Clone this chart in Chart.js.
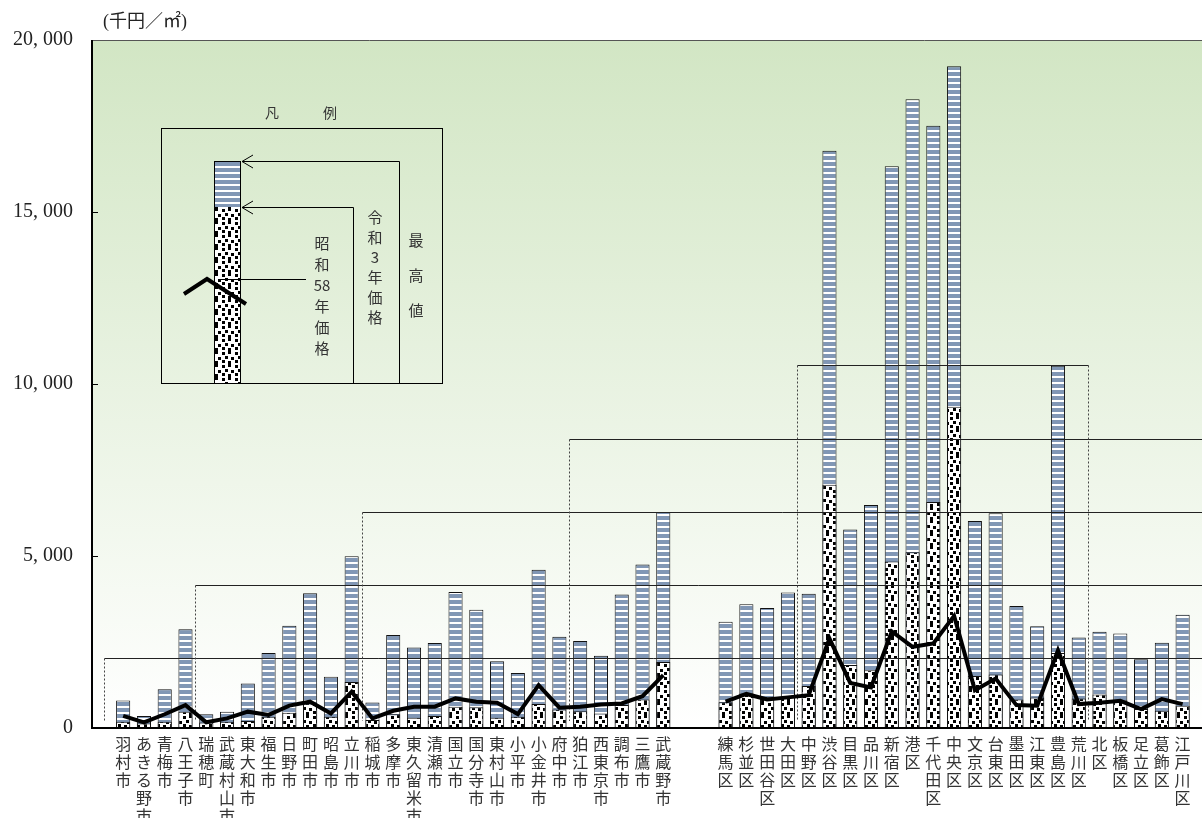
<!DOCTYPE html>
<html lang="ja">
<head>
<meta charset="utf-8">
<title>地価の推移</title>
<script src="https://cdn.jsdelivr.net/npm/chart.js@4.4.1/dist/chart.umd.min.js"></script>
<style>
  html, body { margin: 0; padding: 0; background: #fff; overflow: hidden; }
  #wrap { position: relative; width: 1202px; height: 818px; }
  #unit { position: absolute; left: 103px; top: 6px; font: 18px "Liberation Serif", "Noto Sans CJK JP", serif; color: #222; }
</style>
</head>
<body>
<div id="wrap">
  <canvas id="chart" width="1202" height="818"></canvas>
  <div id="unit">(千円／㎡)</div>
</div>
<script>
// 多摩地域（市町）
const tamaNames = ['羽村市', 'あきる野市', '青梅市', '八王子市', '瑞穂町', '武蔵村山市', '東大和市', '福生市', '日野市',
    '町田市', '昭島市', '立川市', '稲城市', '多摩市', '東久留米市', '清瀬市', '国立市', '国分寺市', '東村山市',
    '小平市', '小金井市', '府中市', '狛江市', '西東京市', '調布市', '三鷹市', '武蔵野市'];
// 区部
const kuNames = ['練馬区', '杉並区', '世田谷区', '大田区', '中野区', '渋谷区', '目黒区', '品川区', '新宿区', '港区',
    '千代田区', '中央区', '文京区', '台東区', '墨田区', '江東区', '豊島区', '荒川区', '北区', '板橋区', '足立区',
    '葛飾区', '江戸川区'];

// 最高値（千円／㎡）
const tamaMax = [800, 350, 1130, 2870, 400, 470, 1290, 2180, 2970, 3920, 1490, 4990, 740, 2700, 2340, 2470, 3950,
    3440, 1940, 1600, 4600, 2650, 2530, 2100, 3880, 4750, 6280];
const kuMax = [3090, 3600, 3490, 3940, 3900, 16780, 5770, 6480, 16330, 18280, 17510, 19240, 6020, 6240, 3550, 2960,
    10530, 2630, 2800, 2750, 2000, 2480, 3290];

// 令和3年価格
const tamaR3 = [180, 130, 180, 470, 160, 180, 200, 330, 445, 715, 330, 1340, 230, 400, 300, 350, 620, 600, 300, 330,
    700, 540, 490, 425, 670, 830, 1920];
const kuR3 = [745, 1005, 910, 910, 1220, 7070, 1830, 1680, 4840, 5110, 6570, 9340, 1510, 1555, 830, 890, 2180, 860,
    975, 810, 550, 500, 650];

// 昭和58年価格
const tamaS58 = [350, 165, 400, 665, 165, 280, 475, 380, 650, 765, 425, 1055, 280, 500, 620, 620, 860, 765, 735, 405,
    1245, 590, 620, 685, 715, 925, 1535];
const kuS58 = [765, 990, 830, 890, 955, 2600, 1310, 1180, 2810, 2360, 2460, 3260, 1100, 1440, 665, 650, 2260, 695,
    735, 790, 550, 840, 695];

// 区切り線（値と、カテゴリ位置での始点・終点）
const refLineValues = [2030, 4160, 6280, 8400, 10540];
const refLineFrom = [0.08, 4.45, 12.5, 22.45, 33.45];
const refLineTo = [null, null, null, null, 47.45];

const yTicks = [0, 5000, 10000, 15000, 20000];

// 先頭に空き1つ、多摩と区部の間に空き2つ
const labels = [''].concat(tamaNames, ['', ''], kuNames);
const maxData = [null].concat(tamaMax, [null, null], kuMax);
const r3Data = [null].concat(tamaR3, [null, null], kuR3);
const s58Data = [null].concat(tamaS58, [null, null], kuS58);

function makeStripe() {
    const c = document.createElement('canvas');
    c.width = 6; c.height = 6;
    const x = c.getContext('2d');
    x.fillStyle = '#8197b5';
    x.fillRect(0, 0, 6, 6);
    x.fillStyle = '#ffffff';
    x.fillRect(0, 4, 6, 2);
    return x.createPattern(c, 'repeat');
}

function makeDots() {
    const c = document.createElement('canvas');
    c.width = 13; c.height = 13;
    const x = c.getContext('2d');
    x.fillStyle = '#ffffff';
    x.fillRect(0, 0, 13, 13);
    x.fillStyle = '#000000';
    [[1, 1], [7, 0], [4, 5], [10, 6], [1, 9], [7, 10]].forEach(p => x.fillRect(p[0], p[1], 3, 3));
    return x.createPattern(c, 'repeat');
}

const ctx0 = document.getElementById('chart').getContext('2d');
const stripePat = makeStripe();
const dotPat = makeDots();

function fmt(v) {
    return v.toLocaleString('en-US').replace(',', ', ');
}

function vText(ctx, parts, x, y0, step) {
    parts.forEach((t, i) => ctx.fillText(t, x, y0 + i * step));
}

function drawLegend(chart) {
    const ctx = chart.ctx;
    const a = chart.chartArea;
    const ox = a.left - 92, oy = a.top - 40;
    ctx.save();
    ctx.translate(ox, oy);
    ctx.strokeStyle = '#000';
    ctx.lineWidth = 1;
    ctx.fillStyle = '#333';
    ctx.textAlign = 'center';
    ctx.textBaseline = 'middle';
    ctx.font = '14px "Noto Sans CJK JP"';
    ctx.fillText('凡', 272, 113);
    ctx.fillText('例', 330, 113);

    ctx.strokeRect(161.5, 128.5, 281, 255);

    // 凡例の棒
    ctx.fillStyle = stripePat;
    ctx.fillRect(214, 161, 27, 46);
    ctx.fillStyle = dotPat;
    ctx.fillRect(214, 207, 27, 176);
    ctx.strokeRect(214.5, 161.5, 26, 222);

    // 矢印
    ctx.beginPath();
    ctx.moveTo(399.5, 383); ctx.lineTo(399.5, 161.5); ctx.lineTo(242, 161.5);
    ctx.moveTo(253, 155); ctx.lineTo(242, 161.5); ctx.lineTo(253, 168);
    ctx.moveTo(353.5, 383); ctx.lineTo(353.5, 207.5); ctx.lineTo(242, 207.5);
    ctx.moveTo(253, 201); ctx.lineTo(242, 207.5); ctx.lineTo(253, 214);
    ctx.moveTo(220, 279.5); ctx.lineTo(306, 279.5);
    ctx.stroke();

    ctx.lineWidth = 4;
    ctx.beginPath();
    ctx.moveTo(184, 294); ctx.lineTo(207, 279); ctx.lineTo(246, 304);
    ctx.stroke();

    ctx.fillStyle = '#333';
    ctx.font = '15px "Noto Sans CJK JP"';
    vText(ctx, ['昭', '和', '58', '年', '価', '格'], 322, 243, 21);
    vText(ctx, ['令', '和', '3', '年', '価', '格'], 375, 217, 20);
    vText(ctx, ['最', '高', '値'], 416, 240, 35);
    ctx.restore();
}

const decor = {
    id: 'decor',
    beforeDraw(chart) {
        const { ctx, chartArea: a, width } = chart;
        const g = ctx.createLinearGradient(0, a.top, 0, a.bottom);
        g.addColorStop(0, '#d2e6c4');
        g.addColorStop(1, '#ffffff');
        ctx.save();
        ctx.fillStyle = g;
        ctx.fillRect(a.left, a.top, width - a.left, a.bottom - a.top);
        ctx.restore();
    },
    afterDatasetDraw(chart, args) {
        if (args.index !== 1) return;
        const { ctx, width } = chart;
        const xs = chart.scales.x, ys = chart.scales.y;
        ctx.save();
        refLineValues.forEach((v, i) => {
            const y = Math.round(ys.getPixelForValue(v)) + 0.5;
            const yb = ys.getPixelForValue(200);
            const x1 = Math.round(xs.getPixelForValue(refLineFrom[i])) + 0.5;
            const x2 = refLineTo[i] === null ? width : Math.round(xs.getPixelForValue(refLineTo[i])) + 0.5;
            ctx.strokeStyle = '#222';
            ctx.lineWidth = 1;
            ctx.setLineDash([]);
            ctx.beginPath();
            ctx.moveTo(x1, y); ctx.lineTo(x2, y);
            ctx.stroke();
            ctx.setLineDash([2, 2]);
            ctx.strokeStyle = '#444';
            ctx.beginPath();
            ctx.moveTo(x1, y); ctx.lineTo(x1, yb);
            if (refLineTo[i] !== null) { ctx.moveTo(x2, y); ctx.lineTo(x2, yb); }
            ctx.stroke();
        });
        ctx.restore();
    },
    afterDraw(chart) {
        const { ctx, chartArea: a, width } = chart;
        const ys = chart.scales.y;
        ctx.save();
        ctx.strokeStyle = '#555';
        ctx.lineWidth = 1;
        ctx.beginPath();
        ctx.moveTo(a.left, Math.round(a.top) + 0.5); ctx.lineTo(width, Math.round(a.top) + 0.5);
        ctx.stroke();
        ctx.strokeStyle = '#000';
        ctx.lineWidth = 2;
        ctx.beginPath();
        ctx.moveTo(a.left, a.top); ctx.lineTo(a.left, a.bottom); ctx.lineTo(width, a.bottom);
        ctx.stroke();
        ctx.lineWidth = 1;
        ctx.beginPath();
        yTicks.slice(1, -1).forEach(v => {
            const y = Math.round(ys.getPixelForValue(v)) + 0.5;
            ctx.moveTo(a.left, y); ctx.lineTo(a.left + 6, y);
        });
        ctx.stroke();
        ctx.restore();
        drawLegend(chart);
    }
};

new Chart(ctx0, {
    type: 'bar',
    data: {
        labels: labels,
        datasets: [
            {
                type: 'line',
                label: '昭和58年価格',
                data: s58Data,
                borderColor: '#000',
                borderWidth: 4,
                pointRadius: 0,
                spanGaps: false,
                tension: 0,
                order: 0
            },
            {
                label: '令和3年価格',
                data: r3Data,
                backgroundColor: dotPat,
                borderColor: '#111',
                borderWidth: 1,
                borderSkipped: 'bottom',
                grouped: false,
                barPercentage: 0.68,
                categoryPercentage: 1,
                order: 1
            },
            {
                label: '最高値',
                data: maxData,
                backgroundColor: stripePat,
                borderColor: '#111',
                borderWidth: 1,
                borderSkipped: 'bottom',
                grouped: false,
                barPercentage: 0.68,
                categoryPercentage: 1,
                order: 2
            }
        ]
    },
    options: {
        responsive: false,
        animation: false,
        layout: { padding: { top: 40, right: 9, left: 0, bottom: 0 } },
        plugins: {
            legend: { display: false },
            tooltip: { enabled: false }
        },
        scales: {
            x: {
                offset: true,
                grid: { display: false, drawTicks: false },
                border: { display: false },
                afterFit: s => { s.height = 90; },
                ticks: {
                    autoSkip: false,
                    maxRotation: 0,
                    minRotation: 0,
                    padding: 7,
                    color: '#333',
                    font: { family: '"Noto Sans CJK JP"', size: 16, lineHeight: 1.13 },
                    callback: function (v) {
                        const s = this.getLabelForValue(v);
                        return s ? Array.from(s) : '';
                    }
                }
            },
            y: {
                min: 0,
                max: 20000,
                grid: { display: false, drawTicks: false },
                border: { display: false },
                afterFit: s => { s.width = 92; },
                afterBuildTicks: s => { s.ticks = yTicks.map(v => ({ value: v })); },
                ticks: {
                    padding: 19,
                    color: '#222',
                    font: { family: '"Liberation Serif"', size: 20 },
                    callback: v => fmt(v)
                }
            }
        }
    },
    plugins: [decor]
});
</script>
</body>
</html>
